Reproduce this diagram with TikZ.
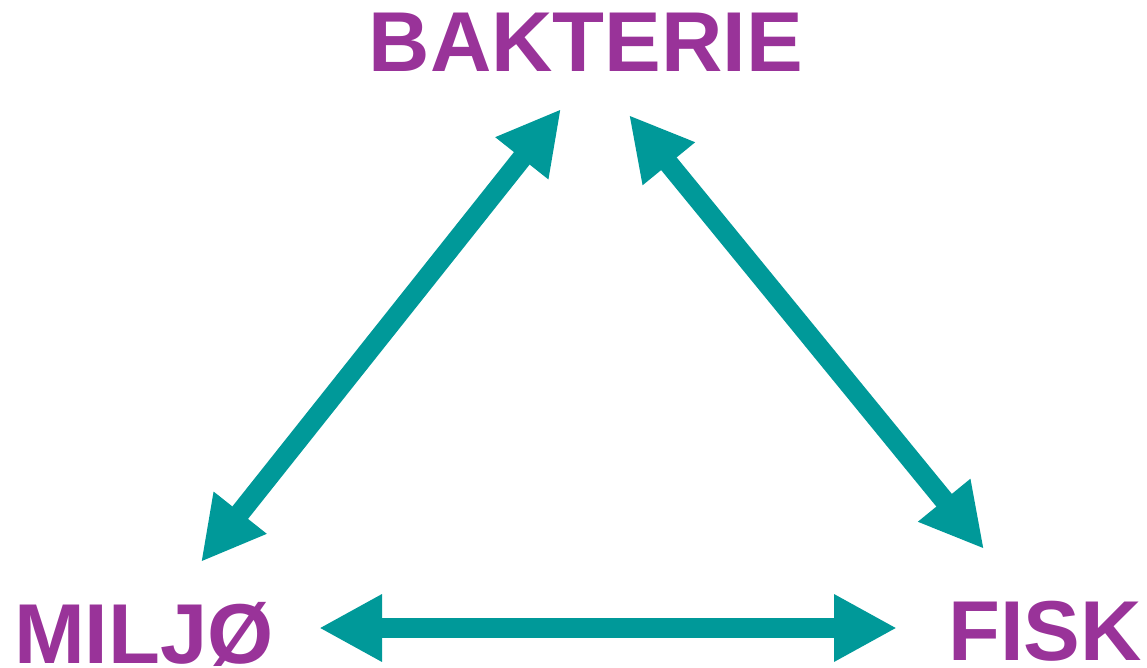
\documentclass[tikz,border=0pt]{standalone}
\usepackage{fontspec}
\setmainfont{Liberation Sans}
\usetikzlibrary{arrows.meta}
\definecolor{lilla}{RGB}{153,51,153}
\definecolor{teal}{RGB}{0,153,153}
\begin{document}
\begin{tikzpicture}[
				x=1pt, y=-1pt,
				word/.style={font=\fontsize{85}{90}\selectfont\bfseries, text=lilla, inner sep=0pt, anchor=base},
				link/.style={draw=teal, line width=20pt, {Triangle[length=63pt, width=63pt]}-{Triangle[length=63pt, width=63pt]}}
				]
				
				\useasboundingbox (0, 0) rectangle (1147, 668);
				
				\node[word] (bakterie) at (586, 72) {BAKTERIE};
				\node[word] (miljo) at (144, 663) {MILJØ};
				\node[word] (fisk) at (1045, 660) {FISK};
				
				\coordinate (b-l) at (561, 109);
				\coordinate (b-r) at (629, 115);
				\coordinate (m-t) at (201, 562);
				\coordinate (m-r) at (319, 628);
				\coordinate (f-t) at (984, 549);
				\coordinate (f-l) at (897, 628);
				
				\draw[link] (b-l) -- (m-t);
				\draw[link] (b-r) -- (f-t);
				\draw[link] (m-r) -- (f-l);
				
			\end{tikzpicture}
\end{document}
